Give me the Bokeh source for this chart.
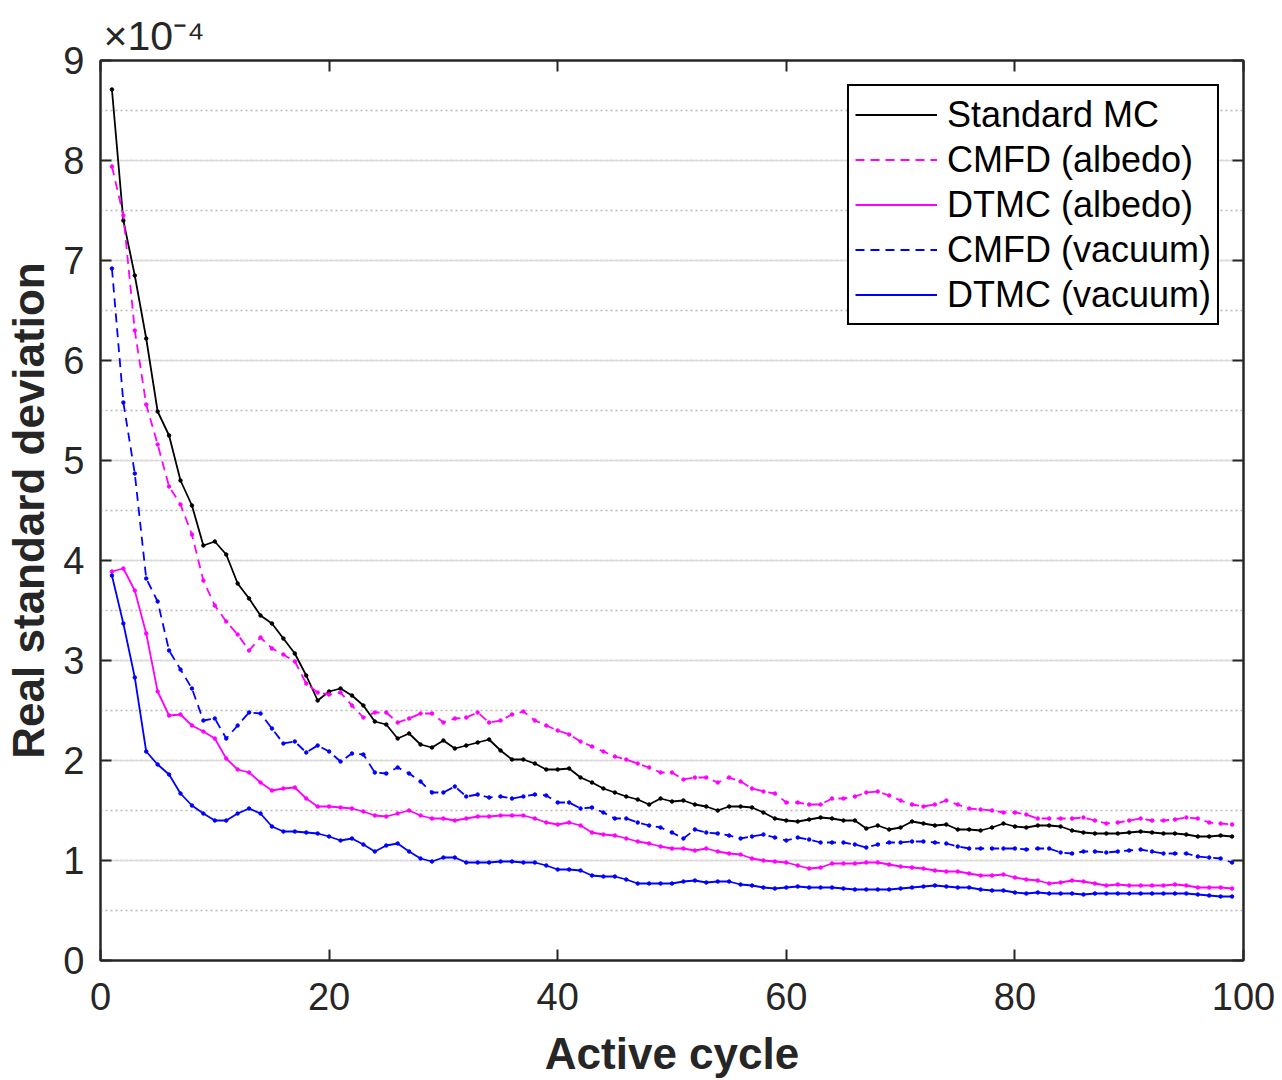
from bokeh.plotting import figure
from bokeh.models import LinearAxis, SingleIntervalTicker, Legend, LegendItem, Range1d
from bokeh.embed import file_html
from bokeh.resources import INLINE

# Active cycle index
cycles = list(range(1, 100))

# Real standard deviation, in units of 1e-4
standard_mc = [8.71, 7.40, 6.85, 6.22, 5.49, 5.25, 4.80, 4.55, 4.15, 4.19,
               4.06, 3.77, 3.62, 3.45, 3.37, 3.22, 3.07, 2.85, 2.60, 2.69,
               2.72, 2.65, 2.55, 2.39, 2.36, 2.22, 2.27, 2.16, 2.13, 2.20,
               2.12, 2.15, 2.18, 2.21, 2.10, 2.01, 2.01, 1.97, 1.91, 1.91,
               1.92, 1.83, 1.78, 1.72, 1.68, 1.64, 1.61, 1.56, 1.62, 1.59,
               1.60, 1.56, 1.54, 1.50, 1.54, 1.54, 1.53, 1.48, 1.42, 1.40,
               1.39, 1.41, 1.43, 1.42, 1.40, 1.40, 1.32, 1.35, 1.31, 1.33,
               1.39, 1.37, 1.35, 1.36, 1.31, 1.31, 1.30, 1.33, 1.37, 1.34,
               1.33, 1.35, 1.35, 1.34, 1.30, 1.28, 1.27, 1.27, 1.27, 1.28,
               1.29, 1.28, 1.27, 1.27, 1.26, 1.24, 1.24, 1.25, 1.24]

cmfd_albedo = [7.94, 7.45, 6.30, 5.56, 5.16, 4.74, 4.56, 4.26, 3.80, 3.55,
               3.39, 3.26, 3.10, 3.23, 3.12, 3.06, 2.99, 2.77, 2.68, 2.66,
               2.68, 2.55, 2.43, 2.48, 2.48, 2.38, 2.42, 2.47, 2.47, 2.38,
               2.42, 2.43, 2.48, 2.38, 2.40, 2.46, 2.49, 2.40, 2.35, 2.30,
               2.26, 2.19, 2.14, 2.09, 2.04, 2.01, 1.97, 1.93, 1.88, 1.88,
               1.81, 1.83, 1.83, 1.78, 1.83, 1.79, 1.72, 1.69, 1.67, 1.58,
               1.58, 1.56, 1.56, 1.62, 1.62, 1.64, 1.68, 1.69, 1.65, 1.60,
               1.56, 1.54, 1.56, 1.60, 1.56, 1.52, 1.51, 1.50, 1.48, 1.48,
               1.46, 1.42, 1.42, 1.42, 1.42, 1.43, 1.40, 1.37, 1.38, 1.40,
               1.42, 1.40, 1.40, 1.41, 1.43, 1.42, 1.38, 1.37, 1.36]

dtmc_albedo = [3.89, 3.92, 3.70, 3.27, 2.69, 2.45, 2.46, 2.35, 2.29, 2.22,
               2.02, 1.91, 1.88, 1.78, 1.70, 1.72, 1.73, 1.62, 1.54, 1.54,
               1.53, 1.52, 1.49, 1.45, 1.44, 1.47, 1.50, 1.45, 1.42, 1.42,
               1.40, 1.42, 1.44, 1.44, 1.45, 1.45, 1.45, 1.42, 1.38, 1.36,
               1.38, 1.35, 1.28, 1.26, 1.25, 1.22, 1.19, 1.17, 1.14, 1.12,
               1.12, 1.10, 1.12, 1.09, 1.07, 1.06, 1.02, 1.00, 0.99, 0.98,
               0.95, 0.92, 0.93, 0.97, 0.97, 0.97, 0.98, 0.98, 0.96, 0.94,
               0.93, 0.92, 0.90, 0.89, 0.89, 0.87, 0.85, 0.85, 0.86, 0.83,
               0.81, 0.80, 0.77, 0.78, 0.80, 0.79, 0.77, 0.75, 0.76, 0.75,
               0.75, 0.75, 0.75, 0.76, 0.75, 0.73, 0.73, 0.73, 0.72]

cmfd_vacuum = [6.92, 5.58, 4.87, 3.82, 3.59, 3.10, 2.91, 2.72, 2.40, 2.42,
               2.22, 2.35, 2.48, 2.47, 2.32, 2.17, 2.19, 2.08, 2.15, 2.09,
               1.99, 2.07, 2.06, 1.88, 1.87, 1.93, 1.87, 1.79, 1.68, 1.68,
               1.74, 1.64, 1.66, 1.63, 1.64, 1.62, 1.64, 1.66, 1.65, 1.58,
               1.58, 1.52, 1.53, 1.48, 1.42, 1.42, 1.38, 1.35, 1.33, 1.28,
               1.22, 1.31, 1.28, 1.27, 1.25, 1.22, 1.24, 1.26, 1.23, 1.20,
               1.23, 1.21, 1.18, 1.18, 1.18, 1.16, 1.13, 1.16, 1.18, 1.18,
               1.19, 1.19, 1.18, 1.17, 1.14, 1.12, 1.12, 1.12, 1.12, 1.12,
               1.11, 1.12, 1.12, 1.08, 1.07, 1.09, 1.09, 1.08, 1.09, 1.10,
               1.11, 1.09, 1.07, 1.07, 1.07, 1.04, 1.03, 1.02, 0.98]

dtmc_vacuum = [3.85, 3.37, 2.83, 2.09, 1.96, 1.86, 1.67, 1.55, 1.47, 1.40,
               1.40, 1.47, 1.52, 1.47, 1.34, 1.29, 1.29, 1.28, 1.27, 1.24,
               1.20, 1.22, 1.16, 1.09, 1.15, 1.17, 1.09, 1.02, 0.99, 1.03,
               1.03, 0.98, 0.98, 0.98, 0.99, 0.99, 0.98, 0.98, 0.95, 0.91,
               0.91, 0.90, 0.85, 0.84, 0.84, 0.81, 0.77, 0.77, 0.77, 0.77,
               0.79, 0.80, 0.78, 0.79, 0.79, 0.76, 0.75, 0.73, 0.72, 0.73,
               0.74, 0.73, 0.73, 0.73, 0.72, 0.71, 0.71, 0.71, 0.71, 0.72,
               0.73, 0.74, 0.75, 0.74, 0.73, 0.73, 0.71, 0.70, 0.70, 0.68,
               0.67, 0.68, 0.67, 0.67, 0.67, 0.66, 0.67, 0.67, 0.67, 0.67,
               0.67, 0.67, 0.67, 0.67, 0.67, 0.66, 0.65, 0.64, 0.64]

series_names = ["Standard MC", "CMFD (albedo)", "DTMC (albedo)", "CMFD (vacuum)", "DTMC (vacuum)"]
scale_text = "\u00d710\u207b\u2074"

FONT = "Liberation Sans"
AXC = "#262626"

p = figure(width=1282, height=1080, output_backend="svg", toolbar_location=None,
           x_range=Range1d(0, 100), y_range=Range1d(0, 9),
           min_border_left=100, min_border_right=39, min_border_top=60, min_border_bottom=118)
p.background_fill_color = "white"
p.border_fill_color = "white"
p.outline_line_color = AXC
p.outline_line_width = 2

# exponent shown as a left-aligned title above the frame
p.title.text = scale_text
p.title.align = "left"
p.title.offset = 3
p.title.standoff = 4
p.title.text_font = FONT
p.title.text_font_style = "normal"
p.title.text_font_size = "41px"
p.title.text_color = AXC

xt = SingleIntervalTicker(interval=20, num_minor_ticks=0)
yt = SingleIntervalTicker(interval=1, num_minor_ticks=2)

def style_axis(ax, labels=True):
    ax.axis_line_color = AXC
    ax.axis_line_width = 2
    ax.major_tick_line_color = AXC
    ax.major_tick_line_width = 2
    ax.major_tick_in = 11
    ax.major_tick_out = 0
    ax.minor_tick_line_color = None
    ax.major_label_text_font = FONT
    ax.major_label_text_color = AXC
    ax.major_label_text_font_size = "38px"
    ax.axis_label_text_font = FONT
    ax.axis_label_text_font_style = "bold"
    ax.axis_label_text_font_size = "44px"
    ax.axis_label_text_color = AXC
    if not labels:
        ax.major_label_text_font_size = "0px"
        ax.major_label_text_color = None
        ax.major_label_standoff = 0

p.xaxis.ticker = xt
p.yaxis.ticker = yt
p.xaxis.axis_label = "Active cycle"
p.yaxis.axis_label = "Real standard deviation"
style_axis(p.xaxis[0])
style_axis(p.yaxis[0])
p.xaxis.major_label_standoff = 22
p.yaxis.major_label_standoff = 12
p.xaxis.axis_label_standoff = 16
p.yaxis.axis_label_standoff = 7

top = LinearAxis(ticker=SingleIntervalTicker(interval=20, num_minor_ticks=0))
style_axis(top, labels=False)
right = LinearAxis(ticker=SingleIntervalTicker(interval=1, num_minor_ticks=0))
style_axis(right, labels=False)
p.add_layout(top, "above")
p.add_layout(right, "right")

p.xgrid.grid_line_color = None
p.ygrid.ticker = yt
p.ygrid.grid_line_color = "#dadada"
p.ygrid.grid_line_width = 1.6
p.ygrid.minor_grid_line_color = "#b8b8b8"
p.ygrid.minor_grid_line_width = 1.5
p.ygrid.minor_grid_line_dash = "2 3"

styles = [
    (standard_mc, "#000000", "solid"),
    (cmfd_albedo, "#ff00ff", "9 6"),
    (dtmc_albedo, "#ff00ff", "solid"),
    (cmfd_vacuum, "#0000ff", "9 6"),
    (dtmc_vacuum, "#0000ff", "solid"),
]

items = []
for (vals, col, dash), name in zip(styles, series_names):
    r1 = p.line(cycles, vals, line_color=col, line_width=1.8, line_dash=dash)
    p.scatter(cycles, vals, marker="circle", size=3.5, fill_color=col, line_color=col)
    items.append(LegendItem(label=name, renderers=[r1]))

legend = Legend(items=items, location="top_right")
legend.label_text_font = FONT
legend.label_text_font_size = "36px"
legend.label_text_color = "#000000"
legend.glyph_width = 82
legend.glyph_height = 45
legend.label_height = 45
legend.spacing = 0
legend.padding = 6
legend.margin = 24
legend.label_standoff = 10
legend.border_line_color = "#000000"
legend.border_line_alpha = 1.0
legend.border_line_width = 2
legend.background_fill_color = "white"
legend.background_fill_alpha = 1.0
p.add_layout(legend, "center")

open("out.html", "w").write(file_html(p, INLINE))
